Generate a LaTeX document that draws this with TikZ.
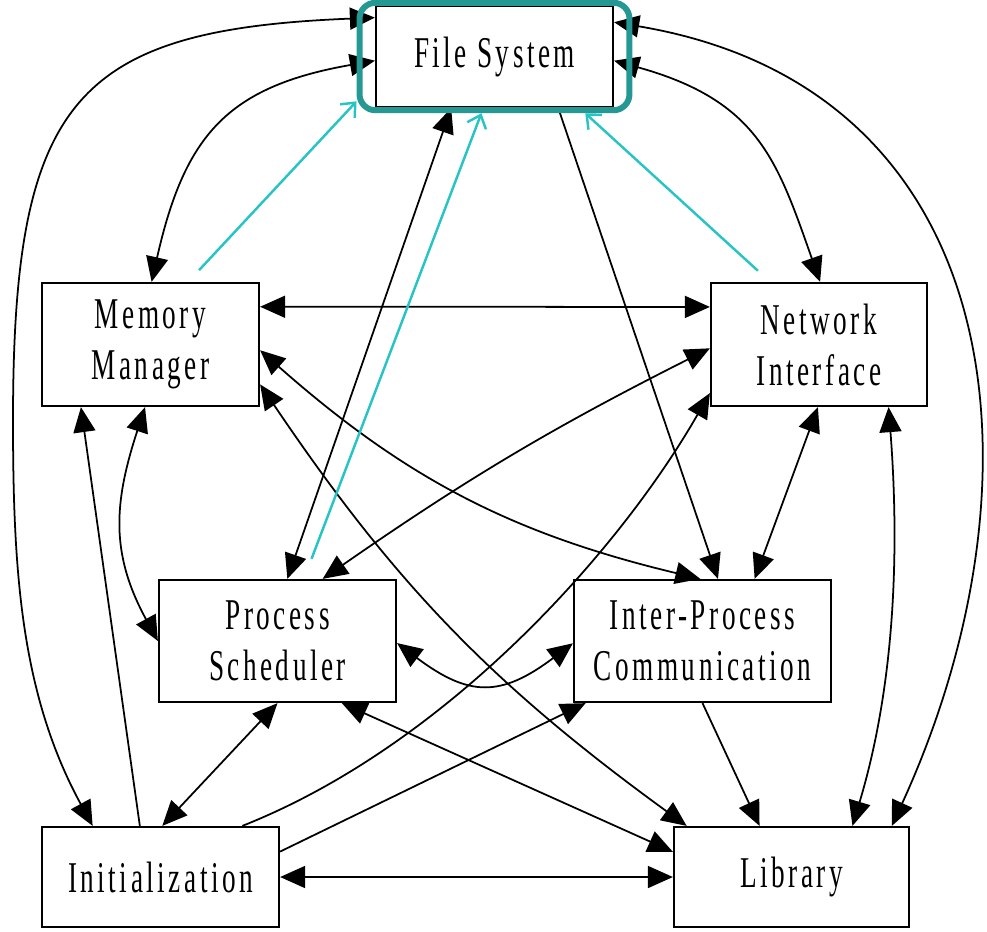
\documentclass[tikz,border=0pt]{standalone}
\usepackage{fontspec}
\usepackage{tikz}
\usepackage{xcolor}
\usetikzlibrary{arrows.meta}
\newfontfamily\modfont[FakeStretch=0.62,LetterSpace=8]{Liberation Serif}
\definecolor{FrameTeal}{RGB}{38, 152, 148}
\definecolor{HiCyan}{RGB}{40, 196, 196}
\tikzset{
  module/.style = {draw, line width = 1.3pt, inner sep = 0pt, align = center,
    font = \modfont\fontsize{25}{29}\selectfont},
  link/.style = {line width = 1pt},
  both/.style = {{Triangle[length=5mm,width=4.4mm]}-{Triangle[length=5mm,width=4.4mm]}},
  oneway/.style = {-{Triangle[length=5mm,width=4.4mm]}},
  hilite/.style = {draw = FrameTeal, line width = 0.12cm, rounded corners = 0.32cm},
  hiarrow/.style = {HiCyan, line width = 1.4pt, -{Straight Barb[length=2.3mm,width=4mm]}}
}

\begin{document}
\begin{tikzpicture}[x = 0.02cm, y = -0.02cm]
            \useasboundingbox (0, 0) rectangle (987, 931);
            %模块
            \node[module, minimum width = 4.74cm, minimum height = 2.02cm] (fs) at (494.5, 56.5) {File System};
            \node[module, minimum width = 4.34cm, minimum height = 2.46cm] (mm) at (150.5, 344.5) {Memory\\Manager};
            \node[module, minimum width = 4.32cm, minimum height = 2.46cm] (ni) at (819, 344.5) {Network\\Interface};
            \node[module, minimum width = 4.74cm, minimum height = 2.44cm] (ps) at (277.5, 641) {Process\\Scheduler};
            \node[module, minimum width = 5.14cm, minimum height = 2.44cm] (ipc) at (702.5, 641) {Inter-Process\\Communication};
            \node[module, minimum width = 4.74cm, minimum height = 2cm] (init) at (160.5, 877) {Initialization};
            \node[module, minimum width = 4.7cm, minimum height = 2cm] (lib) at (791.5, 877) {Library};
            \coordinate (leftturn) at (13, 420);
            %外侧弧线
            \draw[link, both] (fs.162) .. controls +(-300, 12) and +(0, -320) .. (leftturn)
                .. controls +(0, 150) and +(-72, -132) .. (init.143);
            \draw[link, both] (fs.16) .. controls +(395, 66) and +(160, -350) .. (lib.27);
            %弯曲连线
            \draw[link, both] (fs.182) .. controls +(-148, 26) and +(33, -146) .. (mm.89);
            \draw[link, both] (fs.-2) .. controls +(144, 40) and +(-43, -122) .. (ni.89);
            \draw[link, both] (mm.265) .. controls +(-31, 95) and +(-48, -88) .. (ps.180);
            \draw[link, both] (ps.-1) .. controls +(72, 54) and +(-72, 54) .. (ipc.181);
            \draw[link, oneway] (init.32) .. controls +(205, -81) and +(-90, 157) .. (ni.204);
            \draw[link, both] (ni.-42.5) .. controls +(10, 130) and +(45, -150) .. (lib.40.5);
            \draw[link, both] (ps.54) to[bend left = 4] (ni.182);
            \draw[link, both] (mm.-3) to[bend right = 14] (ipc.92);
            \draw[link, both] (mm.-20) to[bend right = 10] (lib.154);
            %直线
            \draw[link, both] (mm.19) -- (ni.161);
            \draw[link, oneway] (init.112) -- (mm.222);
            \draw[link, both] (ps.81) -- (fs.230);
            \draw[link, oneway] (fs.-39.4) -- (ipc.76);
            \draw[link, both] (ni.-91) -- (ipc.50);
            \draw[link, both] (init.88) -- (ps.270);
            \draw[link, both] (ps.-44) -- (lib.168);
            \draw[link, both] (init.east) -- (lib.west);
            \draw[link, oneway] (init.12) -- (ipc.208.5);
            \draw[link, oneway] (ipc.270) -- (lib.122);
            %高亮框
            \node[hilite, minimum width = 5.4cm, minimum height = 2.15cm] (fsbox) at (fs.center) {};
            \draw[hiarrow, shorten <= 0.32cm] (mm.59) -- (fsbox.198);
            \draw[hiarrow, shorten <= 0.43cm] (ps.67) -- (fsbox.257);
            \draw[hiarrow, shorten <= 0.33cm] (ni.128) -- (fsbox.-32);
        \end{tikzpicture}
\end{document}
